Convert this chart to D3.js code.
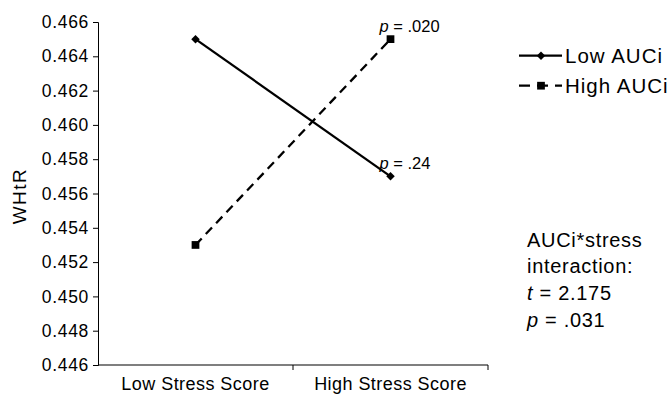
<!DOCTYPE html>
<html>
<head>
<meta charset="utf-8">
<script src="https://cdn.jsdelivr.net/npm/d3@7"></script>
<style>
  html, body { margin: 0; padding: 0; background: #fff; }
  svg { display: block; }
  text { font-family: "Liberation Sans", Arial, Helvetica, sans-serif; fill: #000; }
</style>
</head>
<body>
<svg id="chart" width="669" height="395"></svg>
<script>
// WHtR by stress score, split by cortisol AUCi group
const categories = ["Low Stress Score", "High Stress Score"];
const lowAUCi = [0.465, 0.457];
const highAUCi = [0.453, 0.465];
const seriesNames = ["Low AUCi", "High AUCi"];
const pValues = [".24", ".020"];          // simple slope p at high stress
const yTicks = [0.446, 0.448, 0.450, 0.452, 0.454, 0.456, 0.458, 0.460, 0.462, 0.464, 0.466];
const yDomain = [0.446, 0.466];
const interactionLines = ["AUCi*stress", "interaction:"];
const interactionStats = [["t", "2.175"], ["p", ".031"]];

const svg = d3.select("#chart");
const margin = { left: 98, top: 22 };

const x = d3.scaleBand().domain(categories).range([margin.left, 488]).padding(0);
const y = d3.scaleLinear().domain(yDomain).range([365, margin.top]);

// y axis
const yAxis = svg.append("g")
  .attr("transform", `translate(${margin.left},0)`)
  .call(d3.axisLeft(y).tickValues(yTicks).tickFormat(d3.format(".3f")).tickSize(5).tickPadding(4));
yAxis.selectAll("path, line").attr("stroke", "#000").attr("stroke-width", 1);
yAxis.selectAll("text")
  .style("font-size", "17.5px").style("letter-spacing", "0.7px")
  .attr("font-family", null);

// x axis: ticks on category boundaries
const xAxisG = svg.append("g").attr("transform", `translate(0,${y(yDomain[0])})`);
xAxisG.append("line")
  .attr("x1", x.range()[0]).attr("x2", x.range()[1])
  .attr("stroke", "#000").attr("stroke-width", 1.2);
xAxisG.selectAll("line.tick")
  .data(categories)
  .join("line")
  .attr("class", "tick")
  .attr("x1", d => x(d) + x.bandwidth()).attr("x2", d => x(d) + x.bandwidth())
  .attr("y1", 0).attr("y2", 5)
  .attr("stroke", "#000").attr("stroke-width", 1);
xAxisG.selectAll("text")
  .data(categories)
  .join("text")
  .attr("x", d => x(d) + x.bandwidth() / 2)
  .attr("y", 25)
  .attr("text-anchor", "middle")
  .style("font-size", "18px").style("letter-spacing", "0.45px")
  .text(d => d);

// y axis title
svg.append("text")
  .attr("transform", "translate(26,196) rotate(-90)")
  .attr("text-anchor", "middle")
  .style("font-size", "19px").style("letter-spacing", "1.5px")
  .text("WHtR");

const cx = d => x(d) + x.bandwidth() / 2;
const series = [
  { name: seriesNames[0], values: lowAUCi, dash: null, symbol: "diamond", p: pValues[0] },
  { name: seriesNames[1], values: highAUCi, dash: "9,6", symbol: "square", p: pValues[1] }
];

const line = d3.line().x((d, i) => cx(categories[i])).y(d => y(d));

function marker(sel, type) {
  if (type === "diamond") {
    sel.append("path")
      .attr("d", d3.symbol(d3.symbolSquare, 36)())
      .attr("transform", "rotate(45)")
      .attr("fill", "#000");
  } else {
    sel.append("path")
      .attr("d", d3.symbol(d3.symbolSquare, 60)())
      .attr("fill", "#000");
  }
}

series.forEach(s => {
  svg.append("path")
    .datum(s.values)
    .attr("d", line)
    .attr("fill", "none")
    .attr("stroke", "#000")
    .attr("stroke-width", 2.3)
    .attr("stroke-dasharray", s.dash);
  s.values.forEach((v, i) => {
    const g = svg.append("g").attr("transform", `translate(${cx(categories[i])},${y(v)})`);
    marker(g, s.symbol);
  });
  // p label above the high-stress endpoint
  const last = s.values[s.values.length - 1];
  const t = svg.append("text")
    .attr("x", cx(categories[1]) - 11)
    .attr("y", y(last) - 7)
    .style("font-size", "16.5px");
  t.append("tspan").style("font-style", "italic").text("p");
  t.append("tspan").text(" = " + s.p);
});

// legend
const legend = svg.append("g");
series.forEach((s, i) => {
  const ly = 55.7 + i * 30;
  const g = legend.append("g").attr("transform", `translate(0,${ly})`);
  g.append("line")
    .attr("x1", 519).attr("x2", 562)
    .attr("stroke", "#000").attr("stroke-width", 2.3)
    .attr("stroke-dasharray", s.dash ? "11,7" : null);
  const m = g.append("g").attr("transform", "translate(541,0)");
  marker(m, s.symbol);
  g.append("text")
    .attr("x", 565).attr("y", 7.5)
    .style("font-size", "20.5px").style("letter-spacing", "1px")
    .text(s.name);
});

// interaction annotation
const ann = svg.append("g").attr("transform", "translate(527,0)");
interactionLines.forEach((l, i) => {
  ann.append("text")
    .attr("y", 246.7 + i * 26.7)
    .style("font-size", "20px").style("letter-spacing", "0.7px")
    .text(l);
});
interactionStats.forEach((st, i) => {
  const t = ann.append("text")
    .attr("y", 246.7 + (i + 2) * 26.7)
    .style("font-size", "20px").style("letter-spacing", "0.7px");
  t.append("tspan").style("font-style", "italic").text(st[0]);
  t.append("tspan").text(" = " + st[1]);
});
</script>
</body>
</html>
